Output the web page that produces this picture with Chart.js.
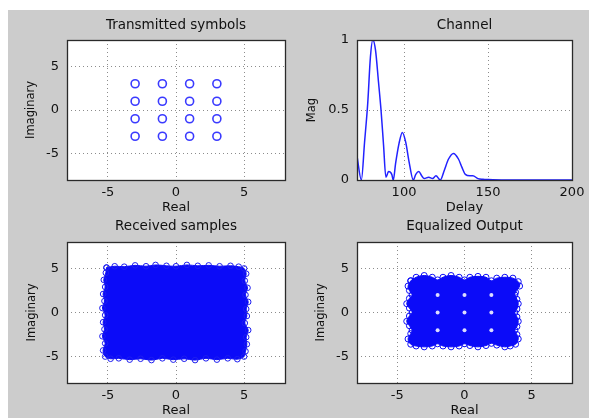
<!DOCTYPE html>
<html>
<head>
<meta charset="utf-8">
<script src="https://cdn.jsdelivr.net/npm/chart.js@4.4.0/dist/chart.umd.min.js"></script>
<style>
  html, body { margin: 0; padding: 0; background: #fff; }
  #fig { position: absolute; left: 8px; top: 10px; width: 581px; height: 408px; background: #cccccc; }
  .pane { position: absolute; }
</style>
</head>
<body>
<div id="fig"></div>
<div class="pane" id="p1"><canvas id="c1"></canvas></div>
<div class="pane" id="p2"><canvas id="c2"></canvas></div>
<div class="pane" id="p3"><canvas id="c3"></canvas></div>
<div class="pane" id="p4"><canvas id="c4"></canvas></div>
<script>
// tick values
const iqTicks = [-5, 0, 5];
const delayTicks = [100, 150, 200];
const magTicks = [0, 0.5, 1];

// transmitted 16-QAM symbols
const txReal = [-3, -3, -3, -3, -1, -1, -1, -1, 1, 1, 1, 1, 3, 3, 3, 3];
const txImag = [3, 1, -1, -3, 3, 1, -1, -3, 3, 1, -1, -3, 3, 1, -1, -3];

// channel magnitude vs delay
const chDelay = [72, 74.6, 76.5, 78.4, 80, 81.4, 83, 84.8, 86.3, 87.8, 89.2, 90.8, 92.7, 93.6, 95, 97, 99, 101, 103, 105.5,
  107, 108.8, 110.5, 112, 114.7, 117, 119, 121.6, 124, 126.5, 129.4, 132.4, 134.5, 136.5, 139.2, 141, 144, 147, 150, 160, 180, 200];
const chMag = [0.17, 0, 0.27, 0.55, 0.88, 1.0, 0.93, 0.7, 0.5, 0.25, 0.02, 0.06, 0.04, 0, 0.12, 0.26, 0.34, 0.27, 0.13, 0,
  0.04, 0.06, 0.03, 0.01, 0.02, 0.01, 0.03, 0, 0.07, 0.15, 0.19, 0.15, 0.09, 0.04, 0.03, 0.03, 0.01, 0.005, 0.003, 0, 0, 0];

// outline of the received sample cloud
const rxEdgeReal = [-5.1, -4.5, -3.8, -3.0, -2.2, -1.5, -0.7, 0, 0.8, 1.6, 2.4, 3.2, 4.0, 4.6, 5.0,
  5.15, 5.05, 5.25, 5.1, 5.3, 5.15, 5.2, 5.05, 5.3, 5.15, 5.2, 5.1, 5.0,
  4.5, 3.8, 3.0, 2.2, 1.4, 0.6, -0.2, -1.0, -1.8, -2.6, -3.4, -4.2, -4.8, -5.2,
  -5.35, -5.2, -5.4, -5.25, -5.35, -5.2, -5.4, -5.25, -5.35, -5.2, -5.3, -5.15, -5.1];
const rxEdgeImag = [5.1, 5.25, 5.2, 5.35, 5.25, 5.4, 5.3, 5.25, 5.4, 5.3, 5.35, 5.25, 5.3, 5.2, 5.0,
  4.4, 3.6, 2.8, 2.0, 1.2, 0.4, -0.4, -1.2, -2.0, -2.8, -3.6, -4.4, -5.0,
  -5.3, -5.2, -5.35, -5.2, -5.4, -5.25, -5.35, -5.2, -5.4, -5.25, -5.35, -5.2, -5.25, -5.0,
  -4.3, -3.5, -2.7, -1.9, -1.1, -0.3, 0.5, 1.3, 2.1, 2.9, 3.7, 4.5, 5.1];

// outline of the equalized output cloud
const eqEdgeReal = [-4.0, -3.6, -3, -2.4, -2, -1.6, -1, -0.4, 0, 0.4, 1, 1.6, 2, 2.4, 3, 3.6, 4.0,
  4.1, 3.8, 3.75, 3.9, 4.0, 3.9, 3.75, 3.9, 4.0, 3.9, 3.75, 3.9, 4.0, 3.8,
  3.4, 3, 2.4, 2, 1.6, 1, 0.4, 0, -0.4, -1, -1.6, -2, -2.4, -3, -3.6, -4.0,
  -4.2, -4.0, -3.9, -4.1, -4.3, -4.1, -3.9, -4.1, -4.3, -4.1, -3.9, -4.1, -4.2, -4.0];
const eqEdgeImag = [3.6, 4.0, 4.2, 4.0, 3.7, 4.0, 4.2, 4.0, 3.7, 4.0, 4.1, 4.0, 3.6, 3.9, 4.0, 3.9, 3.5,
  3, 2.3, 2, 1.5, 1, 0.4, 0, -0.5, -1, -1.6, -2, -2.5, -3, -3.6,
  -3.8, -3.9, -3.7, -3.5, -3.75, -3.9, -3.75, -3.55, -3.8, -3.9, -3.8, -3.55, -3.8, -3.9, -3.8, -3.6,
  -3, -2.4, -2, -1.5, -1, -0.4, 0, 0.5, 1, 1.6, 2, 2.5, 3, 3.6];

// light gaps between the equalized clusters
const eqGapReal = [-2, 0, 2, -2, 0, 2, -2, 0, 2];
const eqGapImag = [2, 2, 2, 0, 0, 0, -2, -2, -2];

const pts = (xs, ys) => xs.map((x, i) => ({x: x, y: ys[i]}));

const FONT = 'DejaVu Sans';
const BLUE = '#0b0bf8';

const boxPlugin = {
  id: 'box',
  beforeDraw(chart) {
    const {ctx, chartArea: a} = chart;
    ctx.save();
    ctx.fillStyle = '#ffffff';
    ctx.fillRect(a.left, a.top, a.right - a.left, a.bottom - a.top);
    ctx.restore();
  },
  afterDraw(chart) {
    const {ctx, chartArea: a} = chart;
    ctx.save();
    ctx.strokeStyle = '#2a2a2a';
    ctx.lineWidth = 1.3;
    ctx.strokeRect(Math.round(a.left) + 0.5, Math.round(a.top) + 0.5,
      Math.round(a.right - a.left), Math.round(a.bottom - a.top));
    ctx.restore();
  }
};

function axis(isY, min, max, ticks, title, titlePad) {
  return {
    type: 'linear',
    min: min,
    max: max,
    afterBuildTicks: s => { s.ticks = ticks.map(v => ({value: v})); },
    afterFit: s => {
      if (isY) s.width = 60; else s.height = 35;
      s.paddingLeft = s.paddingRight = s.paddingTop = s.paddingBottom = 0;
    },
    grid: {color: 'rgba(0,0,0,0.45)', lineWidth: 1, drawTicks: false},
    border: {display: false, dash: [1, 3]},
    ticks: {
      color: '#111',
      font: {family: FONT, size: 13},
      padding: isY ? 8 : 5,
      maxRotation: 0,
      autoSkip: false,
      callback: v => String(v)
    },
    title: {
      display: true,
      text: title,
      color: '#111',
      font: {family: FONT, size: isY ? 11.5 : 13},
      padding: isY ? {top: titlePad, bottom: 0} : {top: 0, bottom: 0}
    }
  };
}

function place(id, left, top, width, height) {
  const el = document.getElementById(id);
  el.style.left = left + 'px';
  el.style.top = top + 'px';
  el.style.width = width + 'px';
  el.style.height = height + 'px';
}

function makeChart(canvasId, title, titlePadTop, datasets, xAxis, yAxis) {
  return new Chart(document.getElementById(canvasId), {
    type: 'scatter',
    data: {datasets: datasets},
    options: {
      responsive: true,
      maintainAspectRatio: false,
      animation: false,
      layout: {padding: {left: 0, top: 0, right: 14, bottom: 0}},
      plugins: {
        legend: {display: false},
        tooltip: {enabled: false},
        title: {
          display: true,
          fullSize: false,
          text: title,
          color: '#111',
          font: {family: FONT, size: 13.5, weight: 'normal'},
          padding: {top: titlePadTop, bottom: 30 - 16.2 - titlePadTop}
        }
      },
      scales: {x: xAxis, y: yAxis}
    },
    plugins: [boxPlugin]
  });
}

place('p1', 7, 10, 292, 205);
place('p2', 297, 10, 289, 205);
place('p3', 7, 212, 292, 206);
place('p4', 297, 212, 289, 206);

makeChart('c1', 'Transmitted symbols', 6.9, [{
    data: pts(txReal, txImag),
    pointStyle: 'circle',
    pointRadius: 4,
    pointBorderWidth: 1.6,
    pointBorderColor: '#3a3aff',
    pointBackgroundColor: 'rgba(0,0,0,0)'
  }],
  axis(false, -8, 8, iqTicks, 'Real'),
  axis(true, -8, 8, iqTicks, 'Imaginary', 17));

makeChart('c2', 'Channel', 6.9, [{
    data: pts(chDelay, chMag),
    showLine: true,
    borderColor: '#2222ff',
    borderWidth: 1.5,
    pointRadius: 0,
    cubicInterpolationMode: 'monotone'
  }],
  axis(false, 72, 200, delayTicks, 'Delay'),
  axis(true, 0, 1, magTicks, 'Mag', 8));

makeChart('c3', 'Received samples', 5.9, [{
    data: pts(rxEdgeReal, rxEdgeImag),
    showLine: true,
    fill: 'shape',
    backgroundColor: BLUE,
    borderColor: BLUE,
    borderWidth: 1,
    tension: 0.3,
    pointStyle: 'circle',
    pointRadius: 2.8,
    pointBorderWidth: 1,
    pointBorderColor: '#1d1df0',
    pointBackgroundColor: 'rgba(0,0,0,0)'
  }],
  axis(false, -8, 8, iqTicks, 'Real'),
  axis(true, -8, 8, iqTicks, 'Imaginary', 18));

makeChart('c4', 'Equalized Output', 5.9, [{
    data: pts(eqGapReal, eqGapImag),
    pointStyle: 'circle',
    pointRadius: 2,
    pointBorderWidth: 0,
    pointBackgroundColor: '#dcdcff'
  }, {
    data: pts(eqEdgeReal, eqEdgeImag),
    showLine: true,
    fill: 'shape',
    backgroundColor: BLUE,
    borderColor: BLUE,
    borderWidth: 1,
    tension: 0.35,
    pointStyle: 'circle',
    pointRadius: 3,
    pointBorderWidth: 1,
    pointBorderColor: BLUE,
    pointBackgroundColor: 'rgba(0,0,0,0)'
  }],
  axis(false, -8, 8, iqTicks, 'Real'),
  axis(true, -8, 8, iqTicks, 'Imaginary', 17));
</script>
</body>
</html>
